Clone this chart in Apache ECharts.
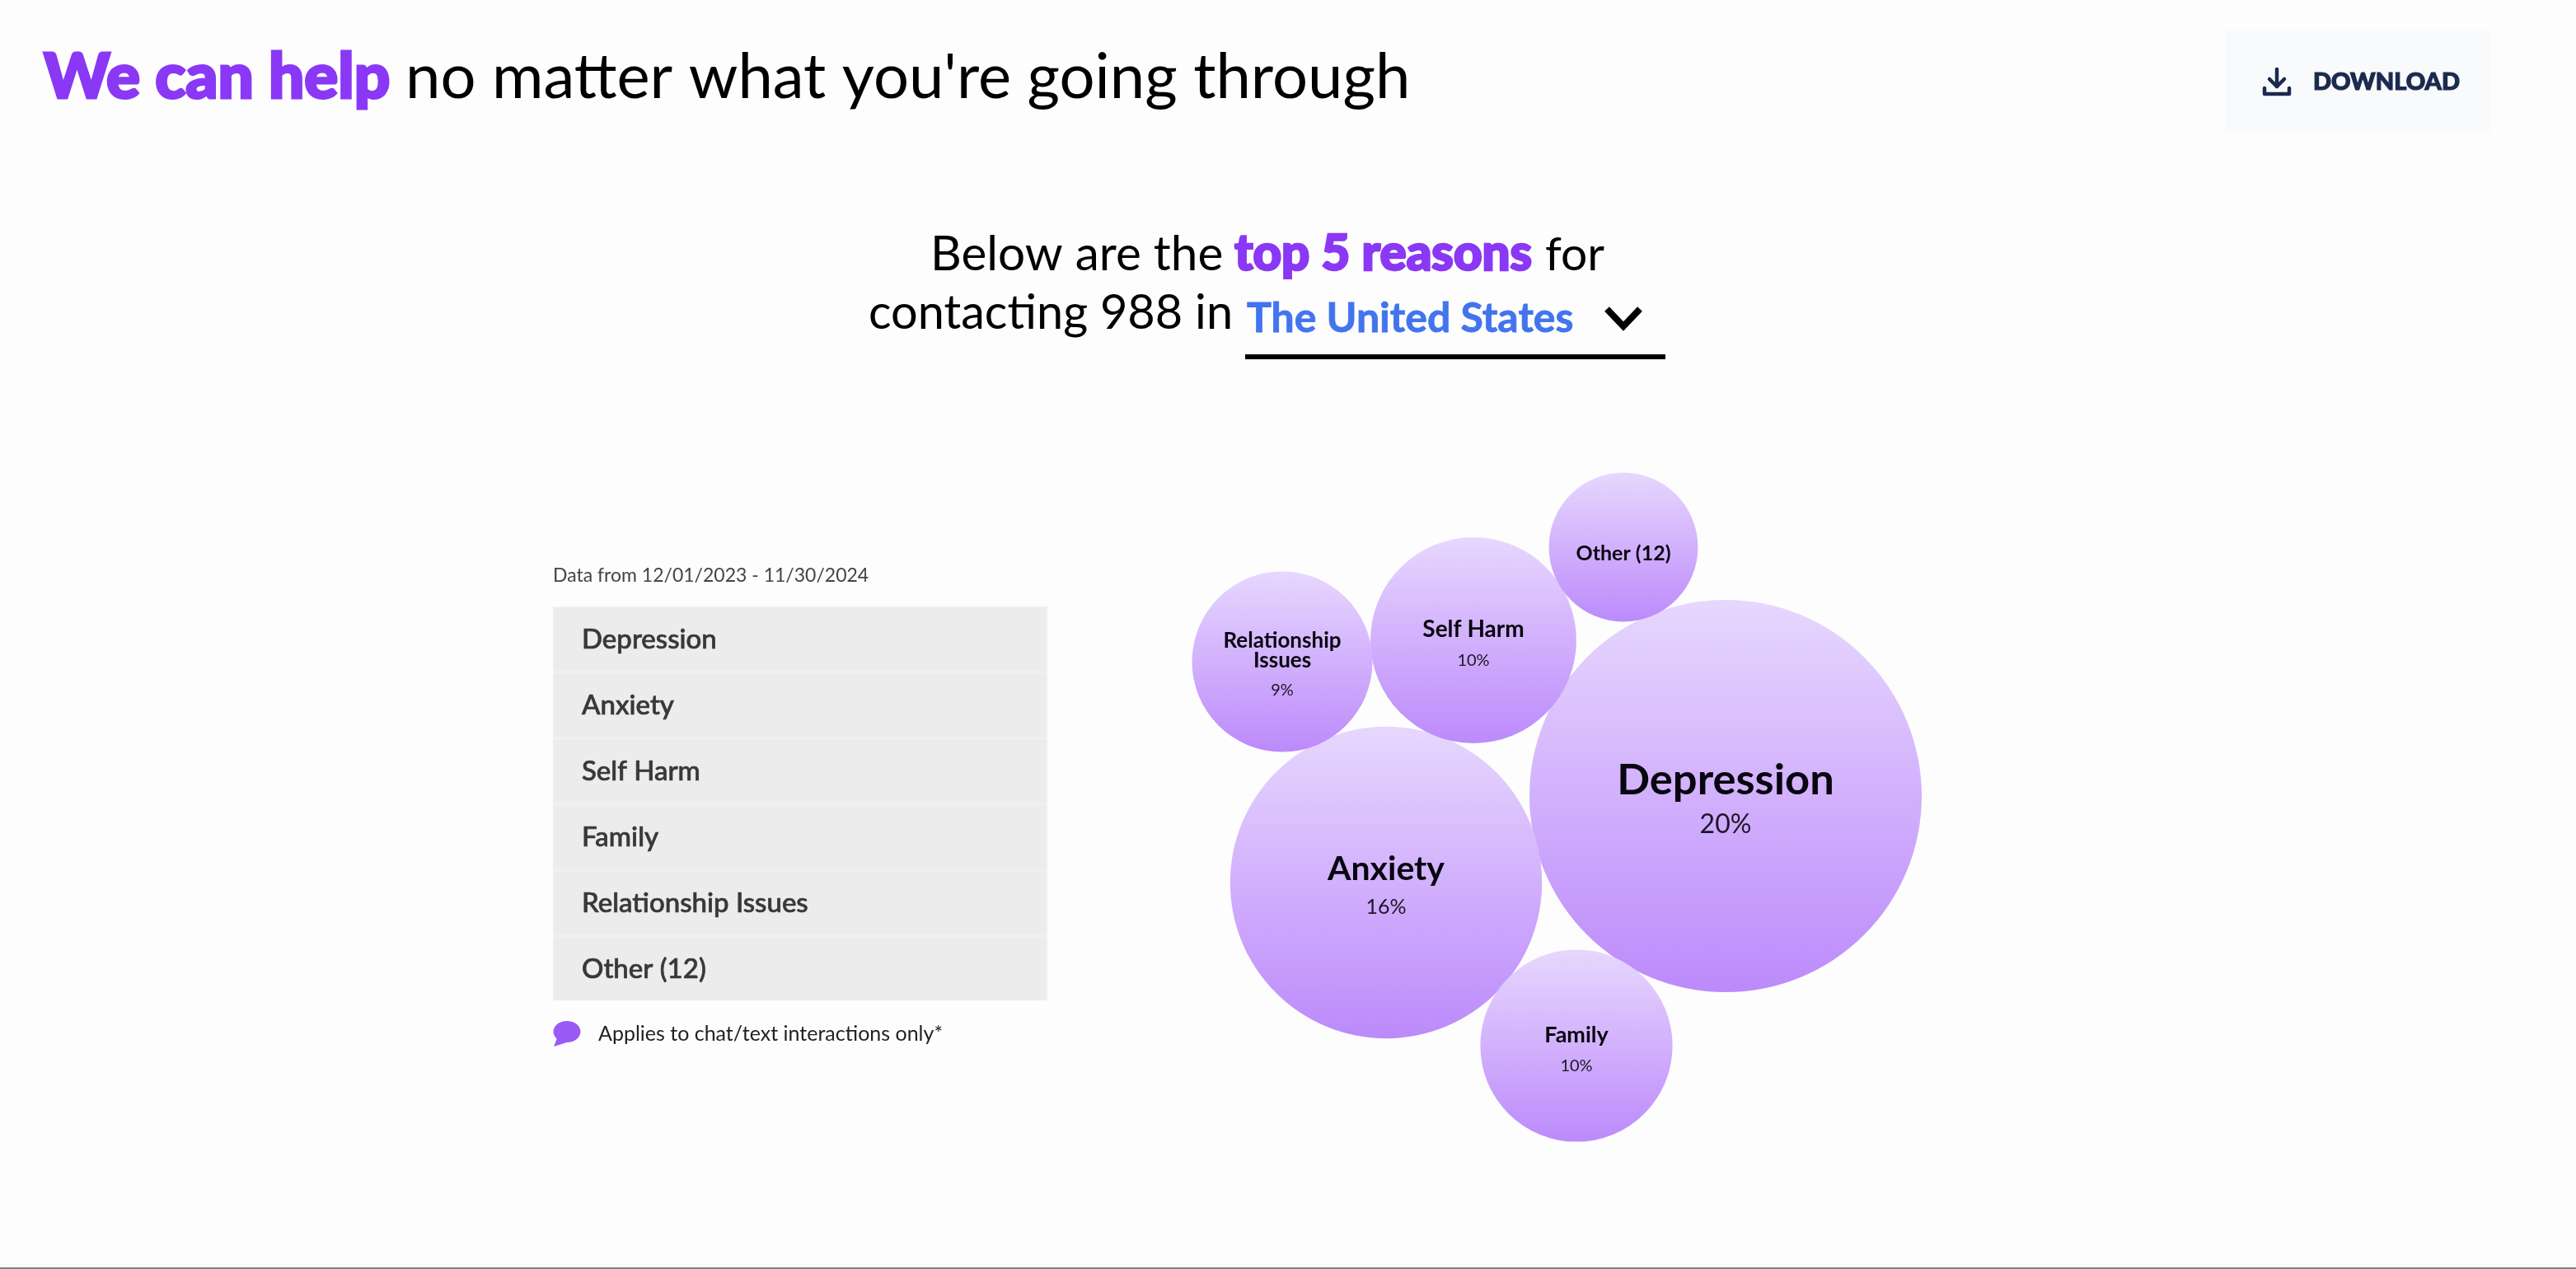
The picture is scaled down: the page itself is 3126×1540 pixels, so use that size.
<!DOCTYPE html>
<html><head><meta charset="utf-8">
<style>html,body{margin:0;padding:0;background:#fdfdfd}#c{width:3126px;height:1540px}</style>
<script src="https://cdn.jsdelivr.net/npm/echarts@6/dist/echarts.min.js"></script>
</head><body><div id="c"></div>
<script>
// ---- data ----
const listCategories = ['Depression','Anxiety','Self Harm','Family','Relationship Issues','Other (12)'];
const bubbleNames = ['Depression','Anxiety','Self Harm','Family','Relationship\nIssues','Other (12)'];
const bubbleShareLabels = ['20%','16%','10%','10%','9%',''];
const bubbleMagnitude = [20,15.9,10.5,9.8,9.2,7.6];
const bubbleX = [69.4,28.2,38.8,51.3,15.6,57.0];
const bubbleY = [47.4,36.9,66.3,17.1,63.7,77.6];

const FONT='Lato';
const nameFont=[52.5,41,28,27,26,25];
const shareFont=[32,25,20,20,20,1];
const nameLine=[70,60,50,50,24,30];
const shareLine=[38,32,26,26,48,0];
const labelDy=[0,0,0,0,11,8];
const PX_PER_UNIT=11.9*2;

const gfx=[];
function txt(s,x,base,size,weight,fill,bold){
  gfx.push({type:'text',silent:true,style:{text:s,x:x,y:base-size*0.33,font:weight+' '+size+'px '+FONT,fill:fill,align:'left',verticalAlign:'middle',
    stroke:bold?fill:null,lineWidth:bold||0}});
}
// header
txt('We can help',53,120,76.5,900,'#8A38F5',3);
txt("no matter what you're going through",492,120,76,400,'#000');
txt('Below are the',1129,328,58.5,400,'#000');
txt('top 5 reasons',1498,328,60,900,'#8A38F5',2.5);
txt('for',1875,328,57,400,'#000');
txt('contacting 988 in',1054,399,57.7,400,'#000');
txt('The United States',1513,403,50,700,'#4274EE',0.8);
gfx.push({type:'polyline',silent:true,shape:{points:[[1950,375],[1970,396],[1990,375]]},style:{stroke:'#000',lineWidth:8,fill:null}});
gfx.push({type:'rect',silent:true,shape:{x:1511,y:430,width:510,height:6},style:{fill:'#000'}});
// download button
gfx.push({type:'rect',silent:true,shape:{x:2701,y:37,width:321,height:124},style:{fill:'#F9FAFB'}});
const ic={stroke:'#1B2A4E',lineWidth:4.5,fill:null,lineCap:'round',lineJoin:'round'};
gfx.push({type:'line',silent:true,shape:{x1:2763,y1:84,x2:2763,y2:105},style:ic});
gfx.push({type:'polyline',silent:true,shape:{points:[[2754,96],[2763,105],[2772,96]]},style:ic});
gfx.push({type:'polyline',silent:true,shape:{points:[[2748,107],[2748,114],[2778,114],[2778,107]]},style:ic});
txt('DOWNLOAD',2807,109,29,900,'#1B2A4E',1.2);
// list
txt('Data from 12/01/2023 - 11/30/2024',671,706,23,400,'#444');
gfx.push({type:'rect',silent:true,shape:{x:671,y:736,width:600,height:478},style:{fill:'#F0F0F0'}});
listCategories.forEach((c,i)=>{
  const top=738+i*80;
  gfx.push({type:'rect',silent:true,shape:{x:672,y:top,width:597,height:76},style:{fill:'#ECECEC'}});
  txt(c,706,top+49,33,500,'#383838',0.7);
});
// footnote
gfx.push({type:'ellipse',silent:true,shape:{cx:688,cy:1252,rx:16.5,ry:13},style:{fill:'#9B59F5'}});
gfx.push({type:'polygon',silent:true,shape:{points:[[676,1260],[672,1270],[688,1265]]},style:{fill:'#9B59F5'}});
txt('Applies to chat/text interactions only*',726,1263,25,400,'#222');
// page bottom rule
gfx.push({type:'rect',silent:true,shape:{x:0,y:1538,width:3126,height:2},style:{fill:'#808080'}});

const bubbleData=bubbleNames.map((n,i)=>({
  value:[bubbleX[i],bubbleY[i],bubbleMagnitude[i]],
  name:n,
  symbolSize:bubbleMagnitude[i]*PX_PER_UNIT,
  label:{
    formatter:()=>{
      const lines=n.split('\n').map(l=>'{n|'+l+'}').join('\n');
      return bubbleShareLabels[i]?lines+'\n{s|'+bubbleShareLabels[i]+'}':lines;
    },
    rich:{
      n:{fontFamily:FONT,fontWeight:700,fontSize:nameFont[i],color:'#08060F',lineHeight:nameLine[i]},
      s:{fontFamily:FONT,fontWeight:400,fontSize:shareFont[i],color:'#1c1626',lineHeight:shareLine[i]}
    }
  }
}));

const chart=echarts.init(document.getElementById('c'),null,{renderer:'canvas'});
chart.setOption({
  animation:false,
  backgroundColor:'#fdfdfd',
  grid:{left:1400,top:540,width:1000,height:900},
  xAxis:{type:'value',min:0,max:100,show:false},
  yAxis:{type:'value',min:0,max:90,show:false},
  tooltip:{show:false},
  graphic:gfx,
  series:[{
    type:'scatter',
    silent:true,
    data:bubbleData,
    itemStyle:{opacity:1,color:new echarts.graphic.LinearGradient(0,0,0,1,[
      {offset:0,color:'#E7D7FE'},{offset:1,color:'#BC8AFB'}])},
    label:{show:true,position:'inside',align:'center',verticalAlign:'middle'},
    labelLayout:(p)=>({dy:labelDy[p.dataIndex],hideOverlap:false})
  }]
});
</script></body></html>
